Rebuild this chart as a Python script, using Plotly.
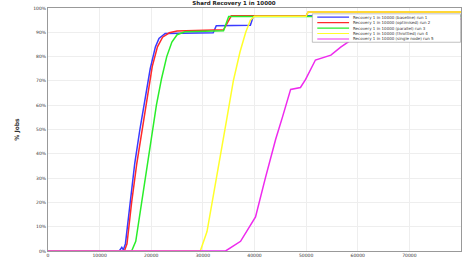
import plotly.graph_objects as go

x_ticks = [0, 10000, 20000, 30000, 40000, 50000, 60000, 70000, 80000]
x_tick_labels = ["0", "10000", "20000", "30000", "40000", "50000", "60000", "70000", "80000"]
y_ticks = [0, 10, 20, 30, 40, 50, 60, 70, 80, 90, 100]
y_tick_labels = ["0%", "10%", "20%", "30%", "40%", "50%", "60%", "70%", "80%", "90%", "100%"]

names = ["Recovery 1 in 10000 (baseline) run 1",
         "Recovery 1 in 10000 (optimised) run 2",
         "Recovery 1 in 10000 (parallel) run 3",
         "Recovery 1 in 10000 (throttled) run 4",
         "Recovery 1 in 10000 (single node) run 5"]
colors = ["#3a3aff", "#ff2a2a", "#2aee2a", "#ffff2a", "#ee2aee"]

blue_x = [0, 13800, 14300, 14600, 15000, 15900, 16800, 17800, 18800, 19800, 20800, 21500, 22700, 24000, 32000, 32600, 39200, 39800, 80000]
blue_y = [0, 0, 1.5, 0.5, 3, 20, 36, 50, 62, 75, 84, 87.5, 89.5, 89.5, 89.8, 92.7, 92.9, 96.8, 96.8]
red_x = [0, 14800, 15300, 16200, 17200, 18200, 19200, 20200, 21200, 22200, 23500, 25000, 34000, 35500, 50000, 50400, 80000]
red_y = [0, 0, 3, 20, 36, 50, 64, 76, 84, 88, 89.8, 90.5, 91, 96.8, 96.8, 98.4, 98.4]
green_x = [0, 16200, 17000, 18000, 19000, 20000, 21000, 22000, 23000, 24000, 25000, 26500, 34000, 35000, 80000]
green_y = [0, 0, 4, 18, 33, 47, 60, 71, 80, 86, 89, 90.2, 90.6, 96.5, 96.5]
yellow_x = [0, 29500, 30800, 32000, 33300, 34600, 35900, 37200, 38300, 39200, 40000, 50000, 50400, 80000]
yellow_y = [0, 0, 8, 22, 38, 54, 70, 82, 90, 95, 96.6, 96.6, 98.4, 98.4]
magenta_x = [0, 34400, 37300, 40200, 42100, 44100, 45400, 47000, 48900, 49900, 51800, 54800, 56700, 58600, 60600, 64000, 68000, 72000, 80000]
magenta_y = [0, 0, 4, 14, 30, 46, 55, 66.5, 67.3, 70.6, 78.6, 80.6, 83.9, 86.7, 88.3, 90.5, 92.5, 94, 95.5]

series_x = [blue_x, red_x, green_x, yellow_x, magenta_x]
series_y = [blue_y, red_y, green_y, yellow_y, magenta_y]

fig = go.Figure()
for n, c, xs, ys in zip(names, colors, series_x, series_y):
    fig.add_trace(go.Scatter(x=xs, y=ys, mode="lines", name=n, line=dict(color=c, width=1.5)))

# compact legend box drawn in axis-domain coordinates
lg_x0, lg_x1, lg_top, lg_bot = 0.64, 0.999, 0.976, 0.859
fig.add_shape(type="rect", xref="x domain", yref="y domain", x0=lg_x0, x1=lg_x1, y0=lg_bot, y1=lg_top,
              line=dict(color="#999", width=0.6), fillcolor="white", layer="above")
step = (lg_top - lg_bot) / (len(names) + 0.2)
for i, (n, c) in enumerate(zip(names, colors)):
    yy = lg_top - step * (i + 0.6)
    fig.add_shape(type="line", xref="x domain", yref="y domain", x0=lg_x0 + 0.012, x1=lg_x0 + 0.089,
                  y0=yy, y1=yy, line=dict(color=c, width=1.2), layer="above")
    fig.add_annotation(xref="x domain", yref="y domain", x=lg_x0 + 0.094, y=yy, text=n, showarrow=False,
                       xanchor="left", yanchor="middle", font=dict(size=4, color="#333"))

fig.update_layout(
    width=468, height=264,
    margin=dict(l=48, r=6, t=7, b=9),
    paper_bgcolor="white", plot_bgcolor="white",
    title=dict(text="<b>Shard Recovery 1 in 10000</b>", x=0.5, xanchor="center", y=0.997, yanchor="top",
               font=dict(family="DejaVu Sans", size=5.5, color="#222")),
    font=dict(family="DejaVu Sans", size=4, color="#333"),
    showlegend=False,
)
fig.update_xaxes(range=[0, 80000], tickvals=x_ticks, ticktext=x_tick_labels, showgrid=True,
                 gridcolor="#eeeeee", showline=True, linecolor="#999", mirror=True, ticks="",
                 zeroline=False, tickfont=dict(size=4.5))
fig.update_yaxes(range=[0, 100], tickvals=y_ticks, ticktext=y_tick_labels, showgrid=True,
                 gridcolor="#eeeeee", showline=True, linecolor="#999", mirror=True, ticks="",
                 zeroline=False, tickfont=dict(size=4.5),
                 title=dict(text="<b>% Jobs</b>", font=dict(size=6), standoff=13))

fig.write_html("out.html", config={"displayModeBar": False},
               post_script="document.body.style.margin='0';document.body.style.overflow='hidden';")
